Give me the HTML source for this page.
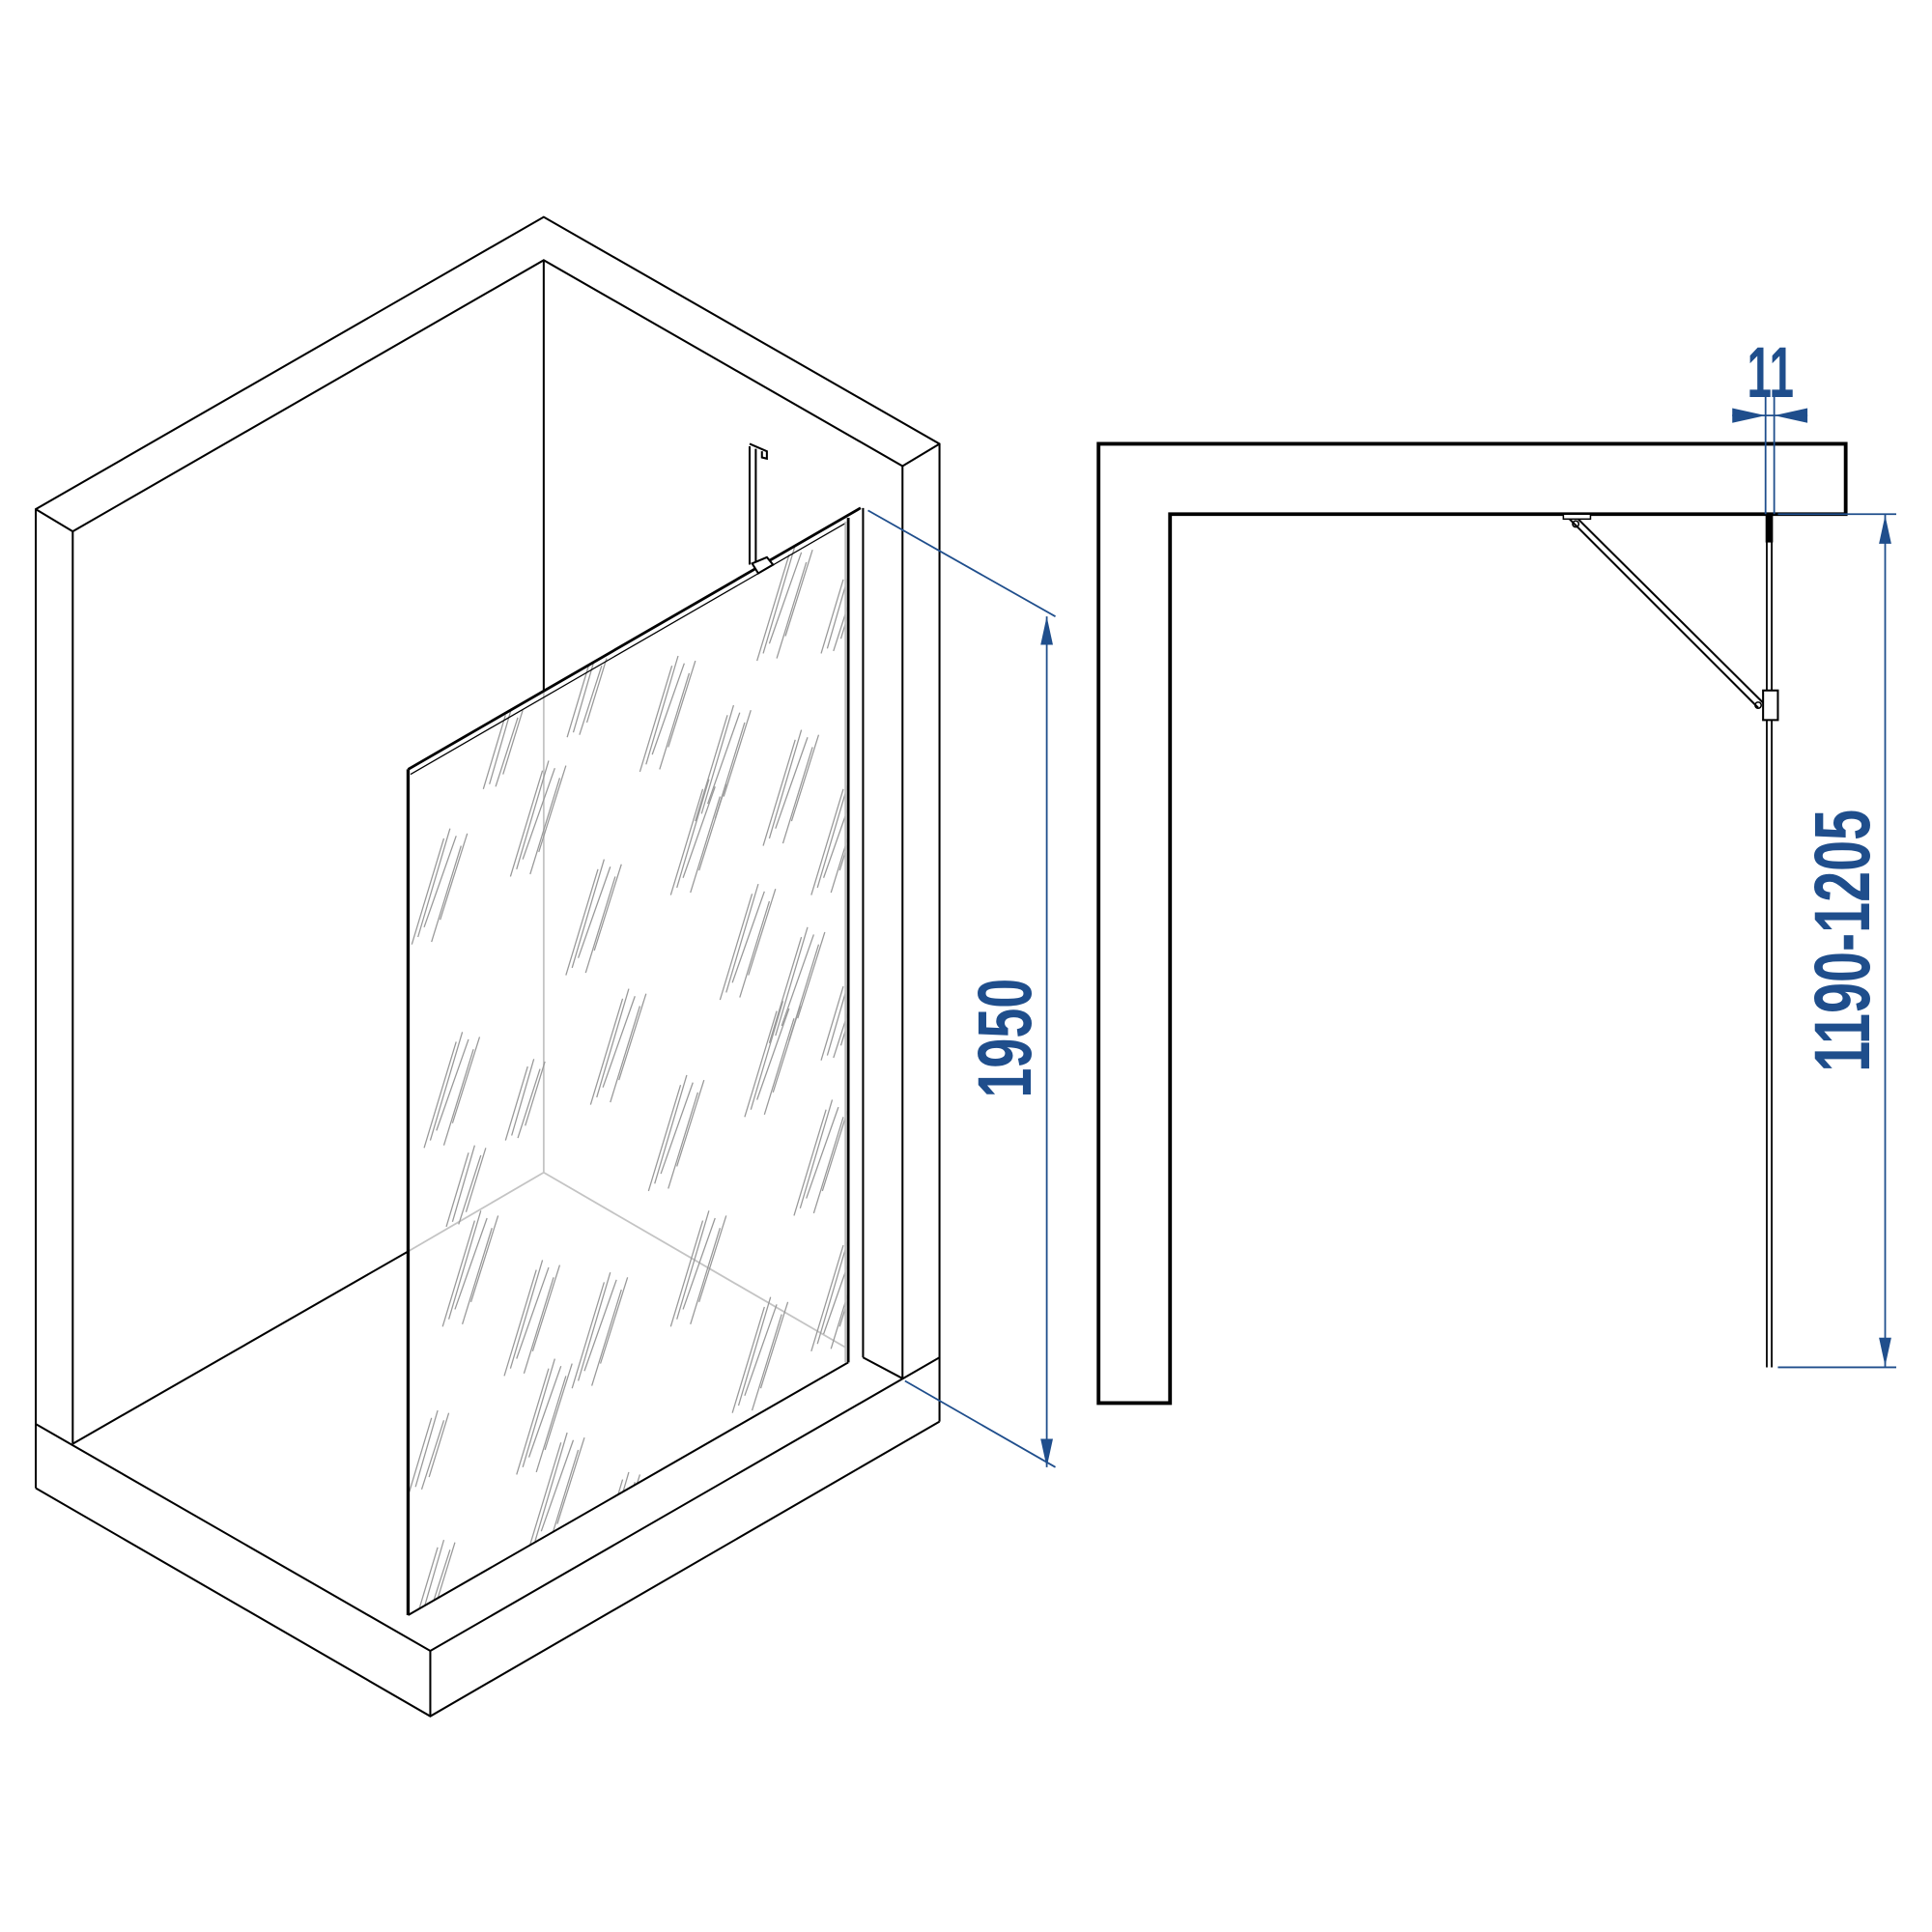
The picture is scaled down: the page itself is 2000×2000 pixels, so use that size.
<!DOCTYPE html>
<html><head><meta charset="utf-8"><style>html,body{margin:0;padding:0;background:#fff}svg{display:block}</style></head>
<body>
<svg width="2000" height="2000" viewBox="0 0 1567 1567" xmlns="http://www.w3.org/2000/svg">
<defs>
<g id="r" stroke="#999" stroke-width="1" fill="none">
<line x1="0" y1="0" x2="-26" y2="86"/>
<line x1="5" y1="-8" x2="-21" y2="80"/>
<line x1="10" y1="-2" x2="-16" y2="72"/>
<line x1="14" y1="6" x2="-10" y2="84"/>
<line x1="19" y1="-4" x2="-3" y2="66"/>
</g>
<g id="r2" stroke="#999" stroke-width="1" fill="none">
<line x1="0" y1="0" x2="-18" y2="60"/>
<line x1="5" y1="-6" x2="-13" y2="56"/>
<line x1="10" y1="2" x2="-8" y2="58"/>
<line x1="14" y1="-4" x2="-2" y2="48"/>
</g>
<clipPath id="gl"><polygon points="331,624 688,418 688,1105 331,1310"/></clipPath>
</defs>
<g fill="none" stroke="#000" stroke-width="1.6" stroke-linejoin="miter">
<polyline points="29,1207 29,413 441,176 762,360 762,1153"/>
<polyline points="59,1171 59,431 441,211 732,378 732,1118"/>
<line x1="29" y1="413" x2="59" y2="431"/>
<line x1="732" y1="378" x2="762" y2="360"/>
<line x1="441" y1="211" x2="441" y2="560"/>
<polyline points="29,1155 349,1339 762,1101"/>
<polyline points="29,1207 349,1392 762,1153"/>
<line x1="349" y1="1339" x2="349" y2="1392"/>
<line x1="59" y1="1171" x2="331" y2="1015"/>
<line x1="700" y1="412" x2="700" y2="1101"/>
<line x1="700" y1="1101" x2="732" y2="1118"/>
</g>
<g stroke="#c4c4c4" stroke-width="1.4" fill="none">
<line x1="441" y1="560" x2="441" y2="951"/>
<line x1="331" y1="1015" x2="441" y2="951"/>
<line x1="441" y1="951" x2="686" y2="1093"/>
</g>
<g clip-path="url(#gl)">
<use href="#r2" x="410" y="580"/><use href="#r2" x="478" y="538"/><use href="#r" x="545" y="540"/>
<use href="#r" x="640" y="450"/><use href="#r2" x="684" y="470"/><use href="#r" x="590" y="580"/>
<use href="#r" x="645" y="600"/><use href="#r" x="440" y="625"/><use href="#r" x="360" y="680"/>
<use href="#r" x="570" y="640"/><use href="#r" x="485" y="705"/><use href="#r" x="610" y="725"/>
<use href="#r" x="684" y="640"/><use href="#r" x="650" y="760"/><use href="#r" x="505" y="810"/>
<use href="#r" x="630" y="820"/><use href="#r" x="370" y="845"/><use href="#r2" x="428" y="865"/>
<use href="#r" x="552" y="880"/><use href="#r" x="670" y="900"/><use href="#r2" x="684" y="800"/>
<use href="#r" x="385" y="990"/><use href="#r" x="435" y="1030"/><use href="#r" x="490" y="1040"/>
<use href="#r" x="570" y="990"/><use href="#r" x="620" y="1060"/><use href="#r" x="684" y="1010"/>
<use href="#r" x="455" y="1170"/><use href="#r2" x="355" y="1255"/><use href="#r2" x="505" y="1200"/>
<use href="#r2" x="350" y="1150"/><use href="#r" x="445" y="1110"/><use href="#r2" x="380" y="935"/>
</g>
<g fill="none" stroke="#000">
<line x1="331" y1="624" x2="331" y2="1310" stroke-width="2.6"/>
<line x1="331" y1="624" x2="698" y2="412" stroke-width="2.2"/>
<line x1="333" y1="628" x2="688" y2="423" stroke-width="1"/>
<line x1="331" y1="1310" x2="688" y2="1105" stroke-width="1.6"/>
<line x1="688" y1="420" x2="688" y2="1105" stroke-width="2.2"/>
<line x1="686" y1="423" x2="686" y2="1105" stroke="#bbb" stroke-width="2"/>
<line x1="608" y1="362" x2="608" y2="458" stroke-width="1.6"/>
<line x1="613" y1="364" x2="613" y2="456" stroke-width="1.6"/>
<path d="M608,360 L622,366 L622,372 L618,371 L618,366" stroke-width="1.6"/>
<path d="M610,457 L622,452 L627,458 L615,465 Z" stroke-width="1.6" fill="#fff"/>
</g>
<g stroke="#1f4e8c" stroke-width="1.4" fill="#1f4e8c">
<line x1="704" y1="414" x2="856" y2="500"/>
<line x1="734" y1="1120" x2="856" y2="1190"/>
<line x1="849" y1="500" x2="849" y2="1190"/>
<polygon points="849,500 844,523 854,523" stroke="none"/>
<polygon points="849,1190 844,1167 854,1167" stroke="none"/>
</g>
<text transform="translate(836,842) rotate(-90)" text-anchor="middle" font-family="'Liberation Sans',sans-serif" font-weight="bold" font-size="62" fill="#1f4e8c" textLength="97" lengthAdjust="spacingAndGlyphs">1950</text>

<polygon points="891,360 1497,360 1497,417 949,417 949,1138 891,1138" fill="none" stroke="#000" stroke-width="3"/>
<g stroke="#000" fill="none">
<line x1="1433" y1="420" x2="1433" y2="1109" stroke-width="1.4"/>
<line x1="1437" y1="420" x2="1437" y2="1109" stroke-width="1.4"/>
<rect x="1432" y="418" width="6" height="22" fill="#000" stroke="none"/>
<rect x="1268" y="417" width="22" height="4" stroke-width="1.2" fill="#fff"/>
<line x1="1273" y1="421" x2="1426" y2="574" stroke-width="1.6"/>
<line x1="1280" y1="421" x2="1430" y2="570" stroke-width="1.6"/>
<circle cx="1278" cy="425" r="2.5" stroke-width="1.2"/>
<circle cx="1426" cy="572" r="2.5" stroke-width="1.2"/>
<rect x="1430" y="560" width="12" height="24" stroke-width="1.6" fill="#fff"/>
</g>
<g stroke="#1f4e8c" stroke-width="1.4" fill="#1f4e8c">
<line x1="1432" y1="322" x2="1432" y2="417" fill="none"/>
<line x1="1439" y1="322" x2="1439" y2="417" fill="none"/>
<line x1="1405" y1="337" x2="1466" y2="337"/>
<polygon points="1405,331 1405,343 1432,337" stroke="none"/>
<polygon points="1466,331 1466,343 1439,337" stroke="none"/>
<line x1="1442" y1="417" x2="1538" y2="417"/>
<line x1="1442" y1="1109" x2="1538" y2="1109"/>
<line x1="1529" y1="417" x2="1529" y2="1109"/>
<polygon points="1529,418 1524,441 1534,441" stroke="none"/>
<polygon points="1529,1108 1524,1085 1534,1085" stroke="none"/>
</g>
<text x="1436" y="322" text-anchor="middle" font-family="'Liberation Sans',sans-serif" font-weight="bold" font-size="58" fill="#1f4e8c" textLength="38" lengthAdjust="spacingAndGlyphs">11</text>
<text transform="translate(1516,763) rotate(-90)" text-anchor="middle" font-family="'Liberation Sans',sans-serif" font-weight="bold" font-size="64" fill="#1f4e8c" textLength="213" lengthAdjust="spacingAndGlyphs">1190-1205</text>
</svg>
</body></html>
